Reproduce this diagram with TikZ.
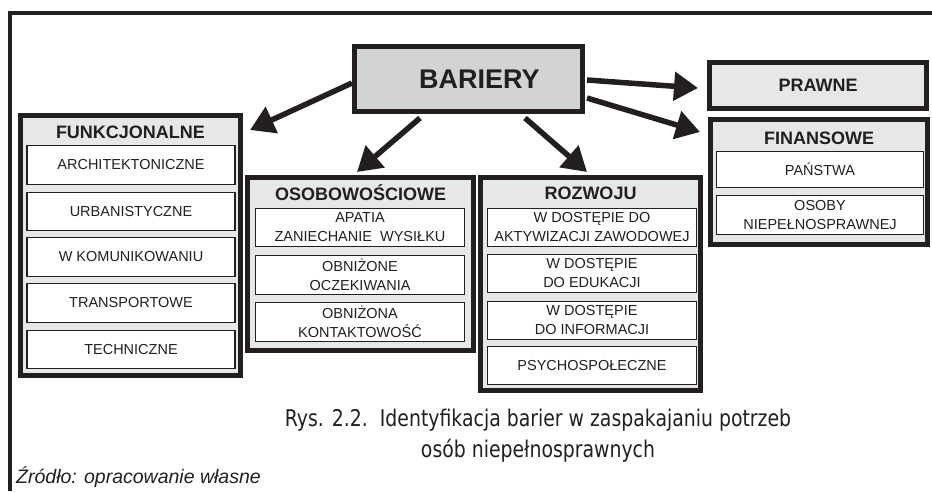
\documentclass[tikz,border=0pt]{standalone}
\usepackage{fontspec}
\setmainfont{Liberation Sans}
\newfontfamily\podpisfont[FakeStretch=0.82]{DejaVu Sans}
\usetikzlibrary{arrows.meta}
\definecolor{ciemny}{HTML}{231F20}
\definecolor{szary}{HTML}{D1D3D4}
\definecolor{jasny}{HTML}{E6E7E8}

\begin{document}
\begin{tikzpicture}[x=1pt,y=-1pt,
  grupa/.style={draw=ciemny,line width=5pt,fill=jasny,inner sep=0pt},
  pole/.style={draw=ciemny,line width=1.3pt,fill=white,inner sep=0pt,align=center,
    text=ciemny,font=\fontsize{14.5}{19}\selectfont},
  tytul/.style={inner sep=0pt,text=ciemny,font=\fontsize{18}{20}\selectfont\bfseries},
  strzalka/.style={draw=ciemny,line width=5.5pt,-{Triangle[length=24pt,width=28pt]}}]
\useasboundingbox (0,0) rectangle (932,491);
% ramka
\draw[ciemny,line width=4pt] (932,13) -- (10,13) -- (10,491);
% glowny blok
\node[grupa,fill=szary,minimum width=228pt,minimum height=65pt,text=ciemny,
  font=\fontsize{27}{30}\selectfont\bfseries] (bariery) at (468.5,79) {\hspace*{22pt}BARIERY};
\node[grupa,minimum width=217pt,minimum height=46pt,text=ciemny,
  font=\fontsize{18}{20}\selectfont\bfseries] (prawne) at (818,85.5) {PRAWNE};
% funkcjonalne
\node[grupa,minimum width=220pt,minimum height=260pt] (funk) at (130.5,245.5) {};
\node[tytul] (funkT) at (130.5,132) {FUNKCJONALNE};
\node[pole,minimum width=208pt,minimum height=38.5pt] (funk1) at (131,165) {ARCHITEKTONICZNE};
\node[pole,minimum width=208pt,minimum height=38.5pt] (funk2) at (131,211.5) {URBANISTYCZNE};
\node[pole,minimum width=208pt,minimum height=38.5pt] (funk3) at (131,257) {W KOMUNIKOWANIU};
\node[pole,minimum width=208pt,minimum height=38.5pt] (funk4) at (131,303) {TRANSPORTOWE};
\node[pole,minimum width=208pt,minimum height=38.5pt] (funk5) at (131,349.5) {TECHNICZNE};
% osobowosciowe
\node[grupa,minimum width=226pt,minimum height=173pt] (osob) at (360.5,264) {};
\node[tytul] (osobT) at (360.5,193) {OSOBOWOŚCIOWE};
\node[pole,minimum width=208.5pt,minimum height=38.5pt] (osob1) at (360,227.5) {APATIA\\ZANIECHANIE\ \ WYSIŁKU};
\node[pole,minimum width=208.5pt,minimum height=38.5pt] (osob2) at (360,275) {OBNIŻONE\\OCZEKIWANIA};
\node[pole,minimum width=208.5pt,minimum height=38.5pt] (osob3) at (360,322) {OBNIŻONA\\KONTAKTOWOŚĆ};
% rozwoju
\node[grupa,minimum width=220pt,minimum height=213pt] (rozw) at (590.5,284) {};
\node[tytul] (rozwT) at (590.5,193) {ROZWOJU};
\node[pole,minimum width=209pt,minimum height=38pt] (rozw1) at (592,227.5) {W DOSTĘPIE DO\\AKTYWIZACJI ZAWODOWEJ};
\node[pole,minimum width=209pt,minimum height=38pt] (rozw2) at (592,273.5) {W DOSTĘPIE\\DO EDUKACJI};
\node[pole,minimum width=209pt,minimum height=38pt] (rozw3) at (592,320.5) {W DOSTĘPIE\\DO INFORMACJI};
\node[pole,minimum width=209pt,minimum height=38pt] (rozw4) at (592,365.5) {PSYCHOSPOŁECZNE};
% finansowe
\node[grupa,minimum width=217pt,minimum height=125pt] (fin) at (819,182) {};
\node[tytul] (finT) at (819,138) {FINANSOWE};
\node[pole,minimum width=207pt,minimum height=36pt] (fin1) at (820,169.5) {PAŃSTWA};
\node[pole,minimum width=207pt,minimum height=39pt] (fin2) at (820,215) {OSOBY\\NIEPEŁNOSPRAWNEJ};
% strzalki
\draw[strzalka] ([yshift=-4pt]bariery.west) -- ([xshift=7pt,yshift=-17pt]funk.north east);
\draw[strzalka] ([xshift=-48.5pt,yshift=-4pt]bariery.south) -- ([xshift=-3.5pt,yshift=3pt]osob.north);
\draw[strzalka] ([xshift=56.5pt,yshift=-4pt]bariery.south) -- ([xshift=-3.5pt,yshift=3pt]rozw.north);
\draw[strzalka] ([xshift=2pt,yshift=-1pt]bariery.east) -- ([xshift=-9pt,yshift=-2.5pt]prawne.west);
\draw[strzalka] ([xshift=2pt,yshift=-19pt]bariery.east) -- ([xshift=-8pt,yshift=-15pt]fin.north west);
% podpis
\node[align=center,inner sep=0pt,text=ciemny,font=\podpisfont\fontsize{23}{31}\selectfont] (podpis) at (538,436)
  {Rys. 2.2.\ \ Identyfikacja barier w zaspakajaniu potrzeb\\osób niepełnosprawnych};
\node[anchor=west,inner sep=0pt,text=ciemny,font=\fontsize{19.5}{22}\selectfont\itshape] (zrodlo) at (16,477)
  {Źródło: opracowanie własne};
\end{tikzpicture}
\end{document}
